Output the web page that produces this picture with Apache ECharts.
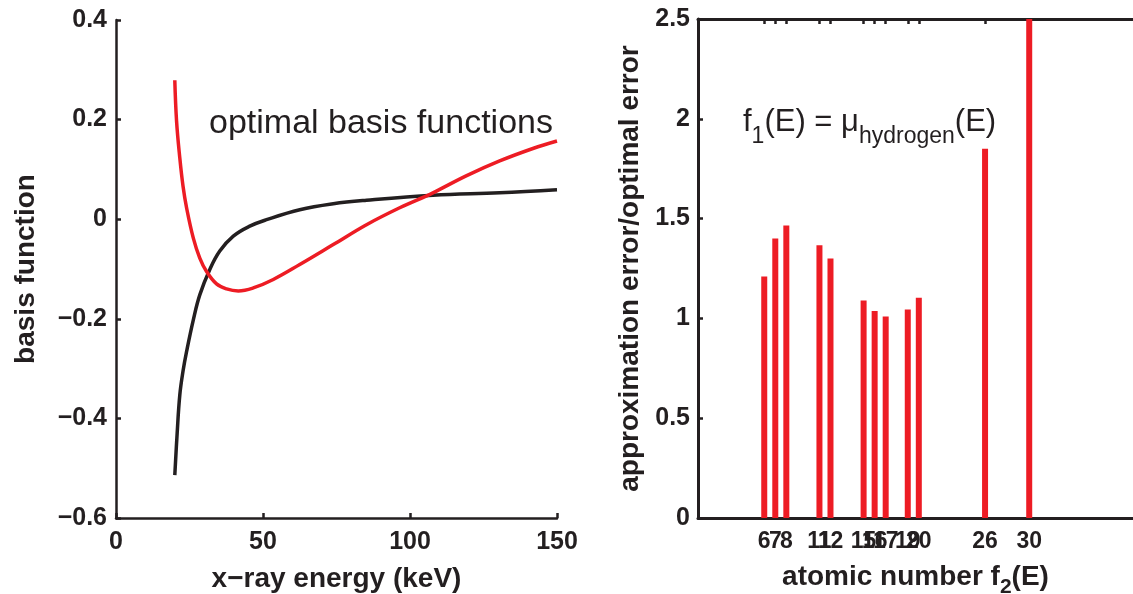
<!DOCTYPE html>
<html>
<head>
<meta charset="utf-8">
<script src="https://cdn.jsdelivr.net/npm/echarts@6/dist/echarts.min.js"></script>
<style>
  html, body { margin: 0; padding: 0; background: #fff; }
  #chart { width: 1133px; height: 594px; }
</style>
</head>
<body>
<div id="chart"></div>
<script>
// left panel: optimal basis functions vs x-ray energy (keV)
const energyBlack = [20, 20.8, 21.7, 22.8, 24, 26.3, 28.5, 31.9, 35.3, 39.9, 45.5, 51.2, 62.5, 73.9, 85.2, 107.8, 130.5, 150]
const basisBlack = [-0.514, -0.43, -0.353, -0.305, -0.266, -0.202, -0.152, -0.101, -0.064, -0.034, -0.014, -0.001, 0.019, 0.031, 0.038, 0.048, 0.053, 0.059]
const energyRed = [20, 20.6, 21.7, 22.8, 24, 26.3, 28.5, 30.8, 34.2, 37.6, 41.6, 46.7, 53.5, 62.5, 73.9, 85.2, 96.5, 107.8, 119.1, 130.5, 141.8, 150]
const basisRed = [0.279, 0.197, 0.123, 0.066, 0.023, -0.038, -0.078, -0.105, -0.13, -0.14, -0.144, -0.138, -0.121, -0.091, -0.051, -0.011, 0.023, 0.053, 0.087, 0.117, 0.142, 0.157]

// right panel: error ratio per atomic number
const atomicNumbers = [6, 7, 8, 11, 12, 15, 16, 17, 19, 20, 26, 30]
const errorRatio = [1.21, 1.40, 1.465, 1.366, 1.30, 1.09, 1.037, 1.01, 1.044, 1.104, 1.85, 2.9]

const axisColor = '#231f20'
const red = '#ed1c24'
const tickFont = { fontFamily: 'Liberation Sans', fontWeight: 'bold', fontSize: 25, color: axisColor }
const titleFont = { fontFamily: 'Liberation Sans', fontWeight: 'bold', fontSize: 28, color: axisColor }
const minus = v => String(v).replace('-', '\u2212')

const pairs = (xs, ys) => xs.map((x, i) => [x, ys[i]])

// the 7 label sits so close to 6 and 8 that the axis drops it, so it gets its own axis
const labelsA = atomicNumbers.filter(n => n !== 7)
const labelsB = atomicNumbers.filter(n => n === 7)

const chart = echarts.init(document.getElementById('chart'))
chart.setOption({
  animation: false,
  title: [
    { text: 'optimal basis functions', left: 204, top: 102,
      textStyle: { fontFamily: 'Liberation Sans', fontWeight: 'normal', fontSize: 34, color: axisColor } },
    { text: 'f{sub|1}(E) = μ{sub|hydrogen}(E)', left: 738, top: 100,
      textStyle: { fontFamily: 'Liberation Sans', fontWeight: 'normal', fontSize: 31, color: axisColor, lineHeight: 35, verticalAlign: 'top',
        rich: { sub: { fontFamily: 'Liberation Sans', fontSize: 23, color: axisColor, lineHeight: 25, padding: [20, 0, 0, 0], verticalAlign: 'top' } } } },
  ],
  grid: [
    { left: 116, top: 20, width: 441, bottom: 76, outerBoundsMode: 'none' },
    { left: 698, top: 19, right: 0, bottom: 76, outerBoundsMode: 'none' },
  ],
  xAxis: [
    { gridIndex: 0, type: 'value', min: 0, max: 150, interval: 50,
      name: 'x\u2212ray energy (keV)', nameLocation: 'middle', nameGap: 47, nameTextStyle: titleFont,
      axisLine: { onZero: false, lineStyle: { color: axisColor, width: 2.5 } },
      axisTick: { inside: true, length: 5, lineStyle: { color: axisColor, width: 2.5 } },
      axisLabel: { ...tickFont, margin: 12 }, splitLine: { show: false } },
    { gridIndex: 1, type: 'value', min: 0, max: 39.4,
      name: 'atomic number f{sub|2}(E)', nameLocation: 'middle', nameGap: 43,
      nameTextStyle: { ...titleFont, lineHeight: 32, verticalAlign: 'top',
        rich: { sub: { fontFamily: 'Liberation Sans', fontWeight: 'bold', fontSize: 21, color: axisColor, lineHeight: 22, padding: [16, 0, 0, 0], verticalAlign: 'top' } } },
      axisLine: { onZero: false, lineStyle: { color: axisColor, width: 3 } },
      axisTick: { inside: true, length: 5, customValues: atomicNumbers, lineStyle: { color: axisColor, width: 2.5 } },
      axisLabel: { ...tickFont, fontSize: 23, margin: 12, customValues: labelsA, hideOverlap: false, showMinLabel: true, showMaxLabel: true },
      splitLine: { show: false } },
    { gridIndex: 1, type: 'value', position: 'top', min: 0, max: 39.4,
      axisLine: { onZero: false, lineStyle: { color: axisColor, width: 3 } },
      axisTick: { inside: true, length: 5, customValues: atomicNumbers, lineStyle: { color: axisColor, width: 2.5 } },
      axisLabel: { show: false }, splitLine: { show: false } },
    { gridIndex: 1, type: 'value', position: 'bottom', min: 0, max: 39.4,
      axisLine: { show: false, onZero: false }, axisTick: { show: false },
      axisLabel: { ...tickFont, fontSize: 23, margin: 12, customValues: labelsB, showMinLabel: true, showMaxLabel: true },
      splitLine: { show: false } },
  ],
  yAxis: [
    { gridIndex: 0, type: 'value', min: -0.6, max: 0.4, interval: 0.2,
      name: 'basis function', nameLocation: 'middle', nameGap: 76, nameTextStyle: titleFont,
      axisLine: { show: true, onZero: false, lineStyle: { color: axisColor, width: 2.5 } },
      axisTick: { show: true, inside: true, length: 5, lineStyle: { color: axisColor, width: 2.5 } },
      axisLabel: { ...tickFont, margin: 9, formatter: v => minus(Math.round(v * 10) / 10) },
      splitLine: { show: false } },
    { gridIndex: 1, type: 'value', min: 0, max: 2.5, interval: 0.5,
      name: 'approximation error/optimal error', nameLocation: 'middle', nameGap: 54, nameTextStyle: titleFont,
      axisLine: { show: true, onZero: false, lineStyle: { color: axisColor, width: 3 } },
      axisTick: { show: true, inside: true, length: 5, lineStyle: { color: axisColor, width: 2.5 } },
      axisLabel: { ...tickFont, margin: 8 },
      splitLine: { show: false } },
  ],
  series: [
    { type: 'line', xAxisIndex: 0, yAxisIndex: 0, data: pairs(energyBlack, basisBlack), smooth: 0.4,
      showSymbol: false, lineStyle: { color: '#231f20', width: 3.5 }, z: 3 },
    { type: 'line', xAxisIndex: 0, yAxisIndex: 0, data: pairs(energyRed, basisRed), smooth: 0.4,
      showSymbol: false, lineStyle: { color: red, width: 3.5 }, z: 4 },
    { type: 'bar', xAxisIndex: 1, yAxisIndex: 1, data: pairs(atomicNumbers, errorRatio), barWidth: 6,
      itemStyle: { color: red }, clip: true, z: 1 },
  ],
})
</script>
</body>
</html>
